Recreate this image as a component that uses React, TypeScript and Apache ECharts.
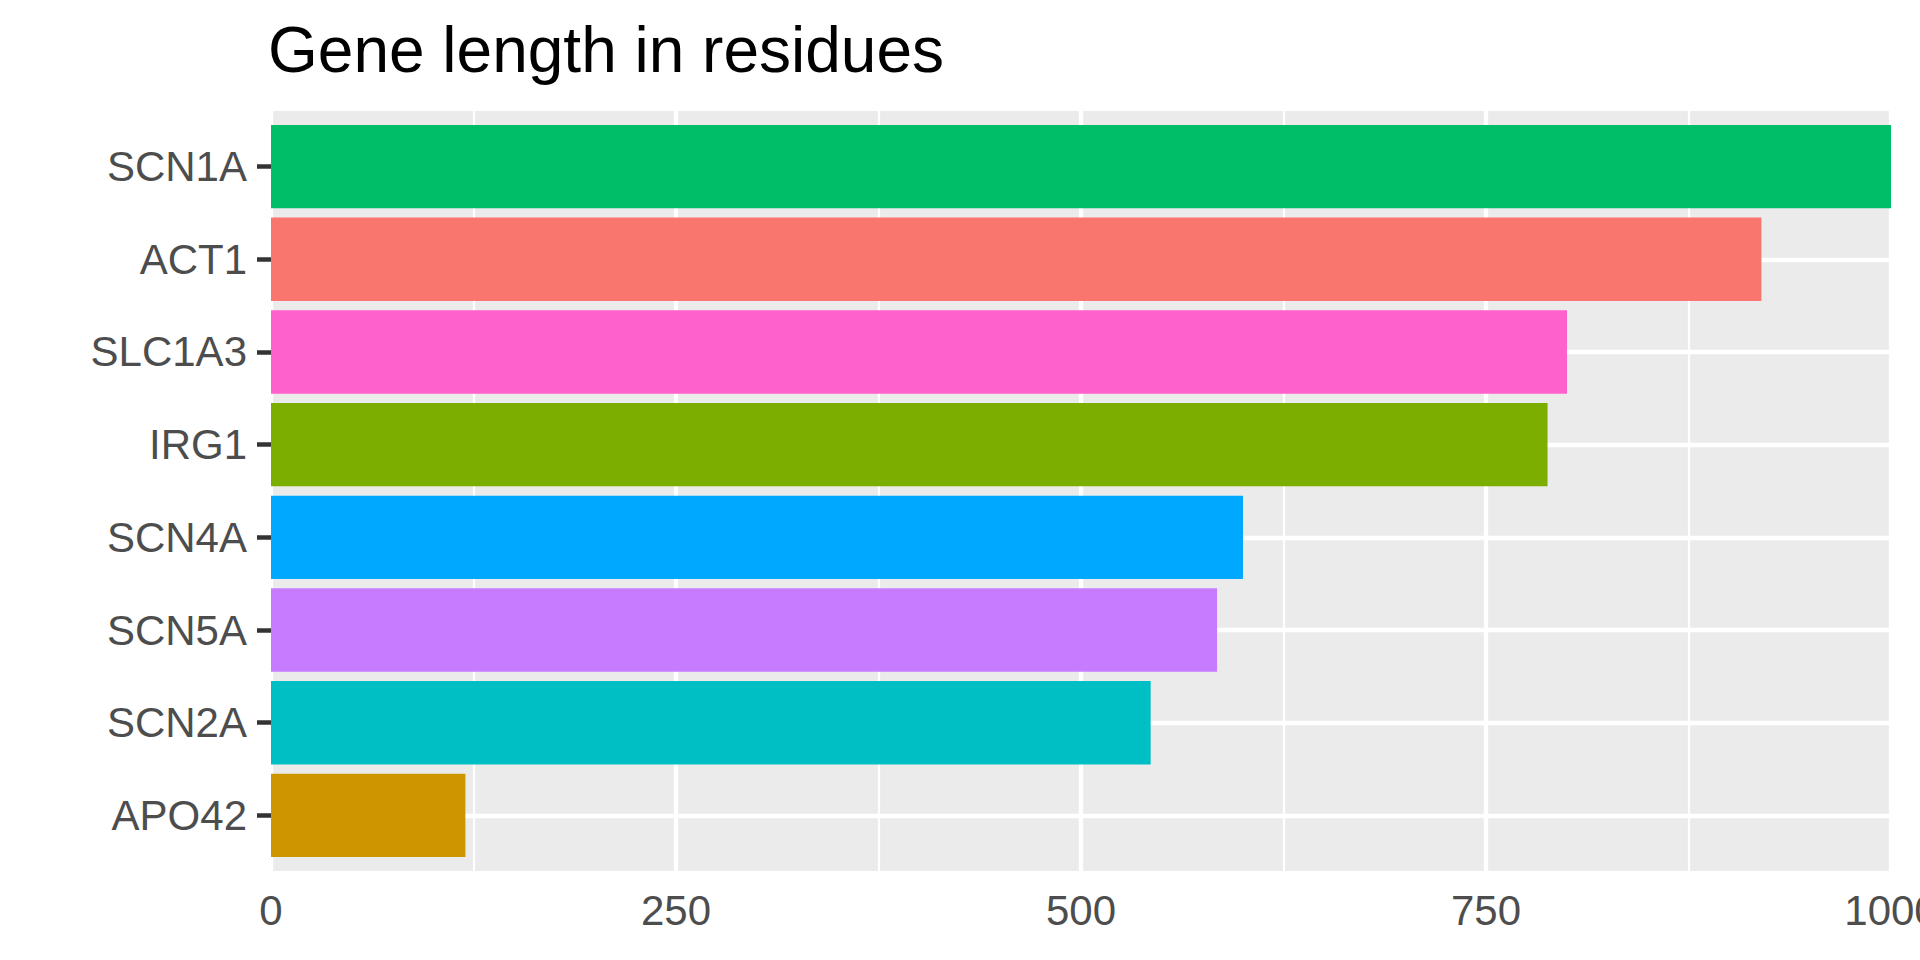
import React, { useEffect, useRef } from "react";
import * as echarts from "echarts";

const genes = ["SCN1A", "ACT1", "SLC1A3", "IRG1", "SCN4A", "SCN5A", "SCN2A", "APO42"];
const lengths = [1000, 920, 800, 788, 600, 584, 543, 120];
const geneColors = ["#00BE67", "#F8766D", "#FF61CC", "#7CAE00", "#00A9FF", "#C77CFF", "#00BFC4", "#CD9600"];
const xTicks = [0, 250, 500, 750, 1000];
const titleText = "Gene length in residues";

const FONT = "Liberation Sans";

export default function App() {
  const ref = useRef<HTMLDivElement>(null);
  useEffect(() => {
    if (!ref.current) return;
    const chart = echarts.init(ref.current, undefined, { renderer: "svg" });
    const left = 271;
    const right = 29;
    const top = 111;
    const bottom = 89;
    const panelH = 960 - top - bottom;
    const unit = panelH / (genes.length - 1 + 1.2);
    const inset = unit * 0.1;
    chart.setOption({
      animation: false,
      backgroundColor: "#ffffff",
      title: {
        text: titleText,
        left: 268,
        top: 18,
        padding: 0,
        textStyle: { fontSize: 64, color: "#000000", fontWeight: "normal", fontFamily: FONT },
      },
      grid: [
        {
          left, right, top, bottom,
          show: true,
          backgroundColor: "#EBEBEB",
          borderWidth: 0,
          containLabel: false,
          outerBoundsMode: "none",
        },
        {
          left, right, top: top + inset, bottom: bottom + inset,
          show: false,
          containLabel: false,
          outerBoundsMode: "none",
        },
      ],
      xAxis: [
        {
          type: "value",
          gridIndex: 0,
          min: xTicks[0],
          max: xTicks[xTicks.length - 1],
          interval: 250,
          axisLine: { show: false },
          axisTick: { show: false },
          axisLabel: {
            show: true,
            margin: 18,
            fontSize: 42,
            color: "#4D4D4D",
            fontFamily: FONT,
            showMaxLabel: true,
            showMinLabel: true,
            formatter: (v: number) => String(v),
          },
          splitLine: { show: true, lineStyle: { color: "#FFFFFF", width: 4.3 } },
          minorTick: { show: false, splitNumber: 2 },
          minorSplitLine: { show: true, lineStyle: { color: "#FFFFFF", width: 2.2 } },
        },
        {
          type: "value",
          gridIndex: 1,
          min: xTicks[0],
          max: xTicks[xTicks.length - 1],
          show: false,
          splitLine: { show: false },
        },
      ],
      yAxis: [
        {
          type: "value",
          gridIndex: 0,
          show: false,
          splitLine: { show: false },
        },
        {
          type: "category",
          gridIndex: 1,
          data: genes,
          inverse: true,
          axisLine: { show: false },
          axisTick: {
            show: true,
            alignWithLabel: true,
            length: 14,
            lineStyle: { color: "#333333", width: 4.5 },
          },
          axisLabel: {
            margin: 24,
            fontSize: 42,
            color: "#4D4D4D",
            fontFamily: FONT,
          },
          splitLine: {
            show: true,
            alignWithLabel: true,
            lineStyle: { color: "#FFFFFF", width: 4.3 },
          },
        },
      ],
      series: [
        {
          type: "bar",
          xAxisIndex: 1,
          yAxisIndex: 1,
          barWidth: "90%",
          data: lengths.map((v, i) => ({ value: v, itemStyle: { color: geneColors[i] } })),
        },
      ],
    });
    return () => chart.dispose();
  }, []);
  return (
    <div
      ref={ref}
      style={{ position: "absolute", left: 0, top: 0, width: 1920, height: 960 }}
    />
  );
}
